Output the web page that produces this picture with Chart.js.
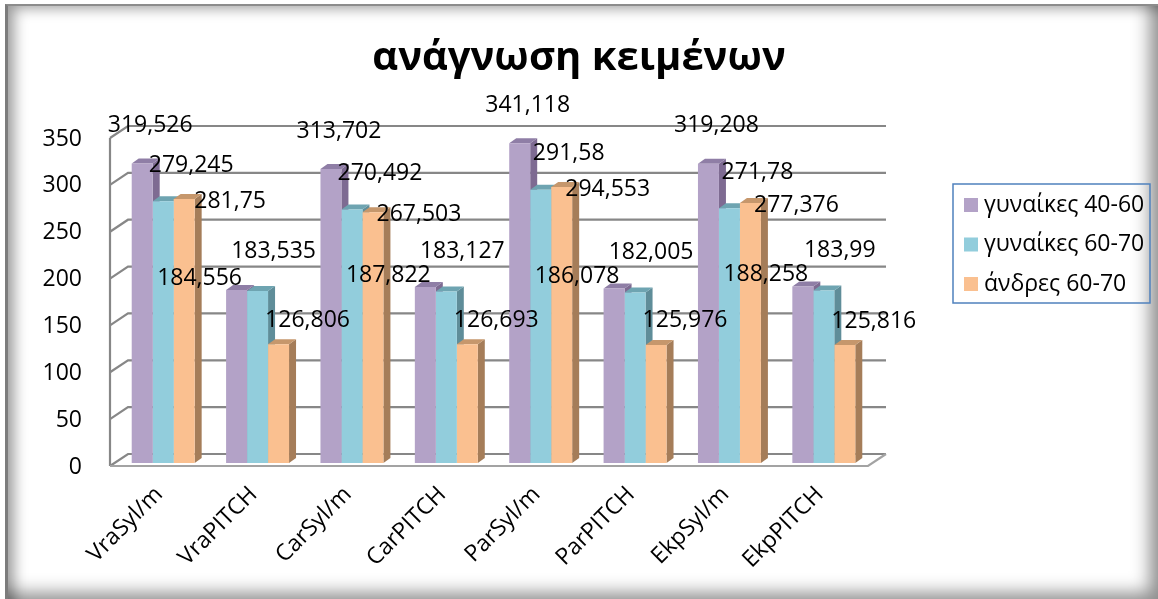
<!DOCTYPE html>
<html>
<head>
<meta charset="utf-8">
<script src="https://cdn.jsdelivr.net/npm/chart.js@4"></script>
<style>
    html, body { margin: 0; padding: 0; background: #fff; }
    #wrap { position: relative; width: 1158px; height: 599px; overflow: hidden; }
    #frame {
        position: absolute; left: 5px; top: 4px; width: 1153px; height: 595px;
        border-left: 3px solid #7c7c7c; border-top: 2px solid #8c8c8c;
        box-sizing: border-box;
        box-shadow: inset 14px 10px 14px -8px rgba(0,0,0,0.4),
                    inset -20px -18px 18px -12px rgba(0,0,0,0.45);
    }
    canvas { position: absolute; left: 0; top: 0; }
</style>
</head>
<body>
<div id="wrap">
    <div id="frame"></div>
    <canvas id="chart" width="1158" height="599"></canvas>
</div>
<script>
// ---- δεδομένα ----
const categories = ['VraSyl/m', 'VraPITCH', 'CarSyl/m', 'CarPITCH', 'ParSyl/m', 'ParPITCH', 'EkpSyl/m', 'EkpPITCH'];
const seriesNames = ['γυναίκες 40-60', 'γυναίκες 60-70', 'άνδρες 60-70'];
const women4060 = [319.526, 184.556, 313.702, 187.822, 341.118, 186.078, 319.208, 188.258];
const women6070 = [279.245, 183.535, 270.492, 183.127, 291.58, 182.005, 271.78, 183.99];
const men6070   = [281.75, 126.806, 267.503, 126.693, 294.553, 125.976, 277.376, 125.816];
const yTicks = [0, 50, 100, 150, 200, 250, 300, 350];

// χρώματα: πρόσοψη, πλαϊνή, πάνω
const fronts = ['#b3a2c7', '#92cddc', '#fac090'];
const sides  = ['#7e6b92', '#5f8d99', '#a57d59'];
const tops   = ['#8f7ea6', '#6ea4b1', '#c6976c'];

const FONT = "'Open Sans', 'Noto Sans', sans-serif";
const WALL_IN = 6;                   // ο τοίχος λίγο πριν την πρώτη κατηγορία
const DEPTH_X = 18, DEPTH_Y = -12;   // βάθος τοίχου/δαπέδου
const BAR_DX = 7, BAR_DY = -5;       // βάθος στήλης

// θέσεις ετικετών (όπως τις βάζει το Excel στο 3D)
const labelShift = {
    even: [[8, -38], [28, -36], [46, 2]],
    odd:  [[-37, -12], [16, -40], [29, -24]]
};

const fmt = v => String(v).replace('.', ',');

// --- τοίχοι, δάπεδο, πλαϊνές όψεις στηλών ---
const threeD = {
    id: 'threeD',
    beforeDatasetsDraw(chart) {
        const { ctx, chartArea: a, scales: { y } } = chart;
        const wl = a.left - WALL_IN, wr = a.right - 3;
        ctx.save();
        ctx.lineWidth = 2.2;
        // πλέγμα πίσω τοίχου
        ctx.strokeStyle = '#878787';
        yTicks.forEach(v => {
            const py = y.getPixelForValue(v) + 3;
            ctx.beginPath();
            ctx.moveTo(wl, py);
            ctx.lineTo(wl + DEPTH_X, py + DEPTH_Y);
            ctx.lineTo(wr + DEPTH_X, py + DEPTH_Y);
            ctx.stroke();
        });
        // μπροστινή ακμή αριστερού τοίχου
        ctx.beginPath();
        ctx.moveTo(wl, y.getPixelForValue(350) + 3);
        ctx.lineTo(wl, y.getPixelForValue(0) + 3);
        ctx.stroke();
        // δάπεδο
        const fy = y.getPixelForValue(0) + 3;
        ctx.strokeStyle = '#a3a3a3';
        ctx.beginPath();
        ctx.moveTo(wl, fy);
        ctx.lineTo(wr, fy);
        ctx.lineTo(wr + DEPTH_X, fy + DEPTH_Y);
        ctx.stroke();

        // πλαϊνές και πάνω όψεις
        chart.data.datasets.forEach((ds, di) => {
            const meta = chart.getDatasetMeta(di);
            meta.data.forEach(bar => {
                const l = bar.x - bar.width / 2, r = bar.x + bar.width / 2;
                const t = bar.y, b = bar.base;
                ctx.fillStyle = sides[di];
                ctx.beginPath();
                ctx.moveTo(r, t);
                ctx.lineTo(r + BAR_DX, t + BAR_DY);
                ctx.lineTo(r + BAR_DX, b + BAR_DY);
                ctx.lineTo(r, b);
                ctx.closePath();
                ctx.fill();
                ctx.fillStyle = tops[di];
                ctx.beginPath();
                ctx.moveTo(l, t);
                ctx.lineTo(l + BAR_DX, t + BAR_DY);
                ctx.lineTo(r + BAR_DX, t + BAR_DY);
                ctx.lineTo(r, t);
                ctx.closePath();
                ctx.fill();
            });
        });
        ctx.restore();
    },
    afterDatasetsDraw(chart) {
        const { ctx } = chart;
        ctx.save();
        ctx.font = '23px ' + FONT;
        ctx.fillStyle = '#000';
        ctx.textAlign = 'center';
        ctx.textBaseline = 'middle';
        chart.data.datasets.forEach((ds, di) => {
            chart.getDatasetMeta(di).data.forEach((bar, i) => {
                const s = labelShift[i % 2 ? 'odd' : 'even'][di];
                ctx.fillText(fmt(ds.data[i]), bar.x + s[0], bar.y + s[1]);
            });
        });
        ctx.restore();
    },
    afterDraw(chart) {
        // υπόμνημα με πλαίσιο
        const { ctx } = chart;
        const box = { x: 953, y: 184, w: 197, h: 119 };
        ctx.save();
        ctx.strokeStyle = '#4f81bd';
        ctx.lineWidth = 1.5;
        ctx.strokeRect(box.x, box.y, box.w, box.h);
        ctx.font = '23px ' + FONT;
        ctx.textBaseline = 'middle';
        ctx.textAlign = 'left';
        chart.data.datasets.forEach((ds, di) => {
            const cy = box.y + 21 + di * 39.5;
            ctx.fillStyle = ds.backgroundColor;
            ctx.fillRect(box.x + 11, cy - 7, 14, 14);
            ctx.fillStyle = '#000';
            ctx.fillText(ds.label, box.x + 31, cy);
        });
        ctx.restore();
    }
};

const datasets = [women4060, women6070, men6070].map((d, i) => ({
    label: seriesNames[i],
    data: d,
    backgroundColor: fronts[i],
    borderWidth: 0,
    categoryPercentage: 0.667,
    barPercentage: 1.0
}));

new Chart(document.getElementById('chart'), {
    type: 'bar',
    data: { labels: categories, datasets: datasets },
    options: {
        responsive: false,
        animation: false,
        layout: { padding: 0 },
        plugins: {
            legend: { display: false },
            tooltip: { enabled: false },
            title: {
                display: true,
                text: 'ανάγνωση κειμένων',
                color: '#000',
                font: { family: FONT, size: 40, weight: 'bold' },
                padding: { top: 35, bottom: 52 }
            }
        },
        scales: {
            x: {
                grid: { display: false, drawTicks: false },
                border: { display: false },
                ticks: {
                    color: '#000',
                    font: { family: FONT, size: 23 },
                    minRotation: 45, maxRotation: 45,
                    padding: 18,
                    labelOffset: -4
                },
                afterFit(scale) { scale.height = 136; }
            },
            y: {
                min: 0, max: 350,
                grid: { display: false, drawTicks: false },
                border: { display: false },
                ticks: {
                    stepSize: 50,
                    color: '#000',
                    font: { family: FONT, size: 23 },
                    padding: 34,
                    labelOffset: 4
                },
                afterFit(scale) { scale.width = 116; }
            },
            // κενός χώρος δεξιά για το υπόμνημα
            side: {
                type: 'linear',
                position: 'right',
                display: true,
                grid: { display: false, drawTicks: false },
                border: { display: false },
                ticks: { display: false },
                afterFit(scale) { scale.width = 287; }
            }
        }
    },
    plugins: [threeD]
});
</script>
</body>
</html>
